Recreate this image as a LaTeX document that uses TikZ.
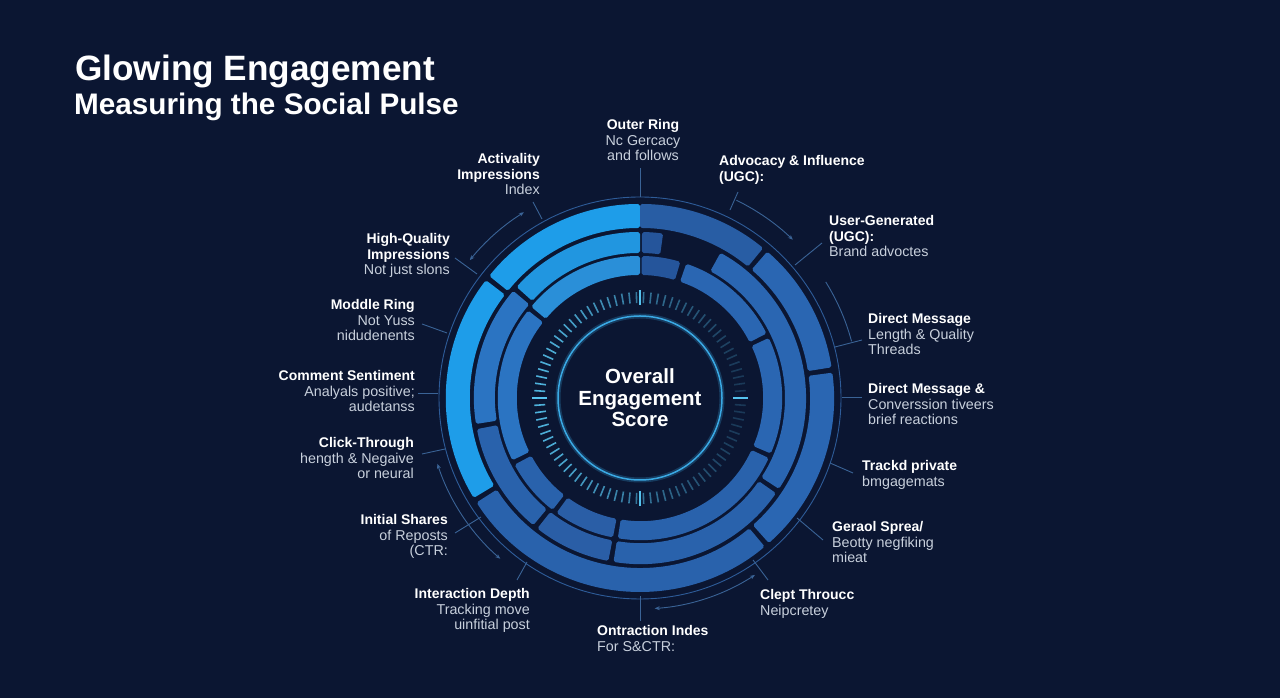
\documentclass[tikz,border=0pt]{standalone}
\usepackage{fontspec}
\setmainfont{Liberation Sans}
\usetikzlibrary{arrows.meta,calc}
\definecolor{bg}{HTML}{0B1632}
\definecolor{lightA}{HTML}{1E9DE9}
\definecolor{lightB}{HTML}{2196E0}
\definecolor{lightC}{HTML}{2A8FD8}
\definecolor{brightM}{HTML}{2B74C2}
\definecolor{midA}{HTML}{2A66B2}
\definecolor{midB}{HTML}{2962AC}
\definecolor{midC}{HTML}{285DA4}
\definecolor{midD}{HTML}{2A5EA6}
\definecolor{darkS}{HTML}{25559B}
\definecolor{ringc}{HTML}{2E5C99}
\definecolor{leadc}{HTML}{3A6396}
\definecolor{tickc}{HTML}{56C3EE}
\definecolor{corec}{HTML}{3AA9E4}
\definecolor{lg}{HTML}{C8D0DC}
\newcommand{\ringseg}[5]{\fill[#5,rounded corners=1.8pt,shift={(640,300)}] (#3:#2) arc[start angle=#3,end angle=#4,radius=#2] -- (#4:#1) arc[start angle=#4,end angle=#3,radius=#1] -- cycle;}
\newcommand{\hd}[1]{\textcolor{white}{\fontsize{14}{15.7}\selectfont\bfseries #1}}
\tikzset{
 lab/.style={inner sep=0pt, text=lg, font=\fontsize{14.3}{15.7}\selectfont},
 labL/.style={lab, anchor=north west, align=left},
 labR/.style={lab, anchor=north east, align=right},
 leader/.style={draw=leadc, line width=0.9pt},
 arcline/.style={draw=leadc, line width=0.9pt},
 tip/.style={arcline, {Stealth[length=5pt,width=4pt]}-{Stealth[length=5pt,width=4pt]}},
}
\begin{document}
\begin{tikzpicture}[x=1pt,y=1pt]
\fill[bg] (0,0) rectangle (1280,698);
\useasboundingbox (0,0) rectangle (1280,698);
\coordinate (C) at (640,300);

% title
\node[anchor=north west, inner sep=0pt, text=white, font=\fontsize{35.2}{40}\selectfont\bfseries] (t1) at (75,643) {Glowing Engagement};
\node[anchor=north west, inner sep=0pt, text=white, font=\fontsize{29.7}{36}\selectfont\bfseries] (t2) at (74,605) {Measuring the Social Pulse};

% outer thin circle
\draw[draw=ringc, line width=0.9pt] (C) circle[radius=201];

% outer band
\ringseg{170}{194}{90}{141}{lightA}
\ringseg{170}{194}{142.6}{211}{lightA}
\ringseg{170}{194}{212.6}{310}{midB}
\ringseg{170}{194}{311.6}{367.5}{midA}
\ringseg{170}{194}{369.1}{409}{midA}
\ringseg{170}{194}{410.6}{450}{midC}
% middle band
\ringseg{145}{166}{90}{138}{lightB}
\ringseg{145}{166}{139.8}{189}{brightM}
\ringseg{145}{166}{190.8}{230}{midB}
\ringseg{145}{166}{231.8}{259}{midD}
\ringseg{145}{166}{260.8}{325}{midB}
\ringseg{145}{166}{326.8}{421}{midA}
\ringseg{145}{166}{442}{449.3}{darkS}
% inner band
\ringseg{123}{142}{90}{140}{lightC}
\ringseg{123}{142}{142}{206}{brightM}
\ringseg{123}{142}{208}{232}{midB}
\ringseg{123}{142}{234}{259}{midD}
\ringseg{123}{142}{261}{335}{midB}
\ringseg{123}{142}{337}{385}{midA}
\ringseg{123}{142}{387}{431}{midA}
\ringseg{123}{142}{433.5}{449.3}{darkS}

% ticks
\foreach \a in {0,4,...,356}{
  \pgfmathsetmacro{\op}{0.55-0.35*cos(\a)}
  \draw[tickc, line width=1.6pt, opacity=\op, shift={(640,300)}] (\a:95) -- (\a:106);
}
\foreach \a in {0,90,180,270}
  \draw[tickc, line width=2.2pt, shift={(640,300)}] (\a:93) -- (\a:108);

% core
\draw[corec, opacity=0.25, line width=5pt] (C) circle[radius=82];
\node[circle, draw=corec, line width=1.5pt, minimum size=164pt, inner sep=0pt, align=center, text=white, font=\fontsize{20.5}{21.5}\selectfont\bfseries] (core) at (C) {Overall\\Engagement\\Score};

% arrow arcs
\draw[tip, shift={(640,300)}] (122:219) arc[start angle=122, end angle=141, radius=219];
\draw[tip, shift={(640,300)}] (198:213) arc[start angle=198, end angle=229, radius=213];
\draw[tip, shift={(640,300)}] (274:211) arc[start angle=274, end angle=303, radius=211];
\draw[arcline, -{Stealth[length=5pt,width=4pt]}, shift={(640,300)}] (64:220) arc[start angle=64, end angle=46, radius=220];
\draw[arcline, shift={(640,300)}] (32:219) arc[start angle=32, end angle=15, radius=219];

% labels
\node[lab, anchor=north, align=center] (l1) at (643,579) {\hd{Outer Ring}\\Nc Gercacy\\and follows};
\node[labR] (l2) at (540,545) {\hd{Activality}\\\hd{Impressions}\\Index};
\node[labR] (l3) at (450,465) {\hd{High-Quality}\\\hd{Impressions}\\Not just slons};
\node[labR] (l4) at (415,399) {\hd{Moddle Ring}\\Not Yuss\\nidudenents};
\node[labR] (l5) at (415,328) {\hd{Comment Sentiment}\\Analyals positive;\\audetanss};
\node[labR] (l6) at (414,261) {\hd{Click-Through}\\hength \& Negaive\\or neural};
\node[labR] (l7) at (448,184) {\hd{Initial Shares}\\of Reposts\\(CTR:};
\node[labR] (l8) at (530,110) {\hd{Interaction Depth}\\Tracking move\\uinfitial post};
\node[labL] (l9) at (597,73) {\hd{Ontraction Indes}\\For S\&CTR:};
\node[labL] (l10) at (760,109) {\hd{Clept Throucc}\\Neipcretey};
\node[labL] (l11) at (832,177) {\hd{Geraol Sprea/}\\Beotty negfiking\\mieat};
\node[labL] (l12) at (862,238) {\hd{Trackd private}\\bmgagemats};
\node[labL] (l13) at (868,315) {\hd{Direct Message \&}\\Converssion tiveers\\brief reactions};
\node[labL] (l14) at (868,385) {\hd{Direct Message}\\Length \& Quality\\Threads};
\node[labL] (l15) at (829,483) {\hd{User-Generated}\\\hd{(UGC):}\\Brand advoctes};
\node[labL] (l16) at (719,543) {\hd{Advocacy \& Influence}\\\hd{(UGC):}};

% leader endpoints
\coordinate (s1) at (640,530);  \coordinate (e1) at (640,501);
\coordinate (s2) at (533,496);  \coordinate (e2) at (542,479);
\coordinate (s3) at (455,440);  \coordinate (e3) at (477,424);
\coordinate (s4) at (422,374);  \coordinate (e4) at (447,365);
\coordinate (s5) at (418,305);  \coordinate (e5) at (438,305);
\coordinate (s6) at (422,244);  \coordinate (e6) at (445,249);
\coordinate (s7) at (455,165);  \coordinate (e7) at (481,181);
\coordinate (s8) at (517,118);  \coordinate (e8) at (527,136);
\coordinate (s9) at (640,77);   \coordinate (e9) at (640,102);
\coordinate (s10) at (768,118); \coordinate (e10) at (753,138);
\coordinate (s11) at (823,158); \coordinate (e11) at (797,180);
\coordinate (s12) at (853,225); \coordinate (e12) at (830,235);
\coordinate (s13) at (862,301); \coordinate (e13) at (842,301);
\coordinate (s14) at (862,358); \coordinate (e14) at (835,351);
\coordinate (s15) at (822,455); \coordinate (e15) at (795,433);
\coordinate (s16) at (738,506); \coordinate (e16) at (730,488);
\foreach \i in {1,...,16} \draw[leader] (s\i) -- (e\i);
\end{tikzpicture}
\end{document}
